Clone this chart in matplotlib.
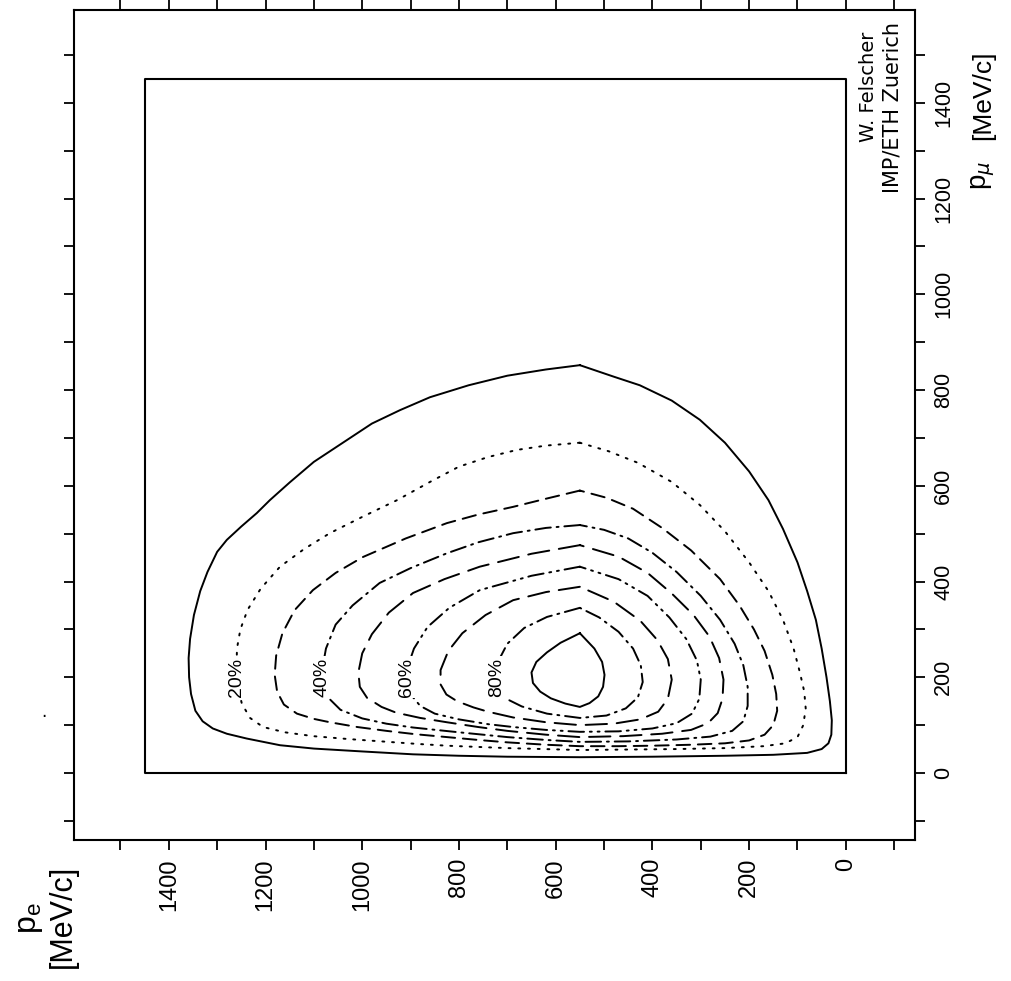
import matplotlib
matplotlib.use('Agg')
import matplotlib.pyplot as plt
from matplotlib.ticker import MultipleLocator

# contour paths: (p_e, p_mu) in MeV/c
c10 = [(550, 852), (620, 843), (700, 830), (780, 810), (860, 785), (922, 758), (980, 730),
       (1040, 690), (1100, 650), (1150, 607), (1191, 570), (1218, 543), (1250, 515), (1280, 487),
       (1300, 462), (1320, 420), (1335, 380), (1348, 330), (1356, 280), (1359, 240), (1358, 200),
       (1354, 165), (1345, 130), (1330, 108), (1309, 93), (1280, 82), (1239, 72), (1170, 58),
       (1100, 51), (1000, 45), (895, 39), (800, 36), (700, 34), (550, 33), (400, 34), (250, 36),
       (150, 38), (80, 42), (50, 50), (36, 62), (30, 80), (29, 110), (33, 150), (40, 200),
       (50, 260), (62, 320), (80, 380), (100, 440), (130, 510), (160, 570), (200, 630),
       (250, 690), (302, 738), (360, 778), (426, 810), (480, 828), (550, 852)]
c20 = [(550, 690), (620, 684), (680, 675), (740, 660), (800, 640), (860, 608), (928, 570),
       (1000, 535), (1067, 501), (1120, 468), (1170, 431), (1210, 385), (1237, 341), (1252, 300),
       (1259, 260), (1260, 220), (1257, 180), (1249, 145), (1232, 115), (1205, 96), (1160, 85),
       (1102, 77), (1030, 71), (960, 66), (890, 61), (825, 57), (700, 52), (550, 48), (450, 49),
       (350, 50), (250, 52), (170, 56), (125, 62), (100, 75), (88, 100), (83, 135), (86, 170),
       (95, 210), (108, 260), (130, 320), (160, 380), (200, 440), (250, 505), (302, 560),
       (360, 608), (430, 648), (490, 672), (550, 690)]
c30 = [(550, 590), (620, 573), (688, 556), (760, 540), (825, 522), (910, 490), (999, 451),
       (1055, 418), (1102, 382), (1140, 340), (1165, 292), (1178, 245), (1181, 205), (1176, 170),
       (1162, 143), (1135, 124), (1100, 113), (1067, 106), (1010, 96), (950, 88), (890, 81),
       (825, 75), (760, 69), (700, 64), (620, 59), (550, 56), (470, 56), (400, 57), (320, 59),
       (250, 62), (200, 68), (168, 80), (150, 100), (142, 130), (144, 165), (152, 205),
       (168, 255), (190, 300), (220, 350), (260, 405), (320, 465), (380, 512), (440, 552),
       (495, 575), (550, 590)]
c40 = [(550, 518), (620, 512), (688, 501), (760, 482), (825, 459), (900, 428), (964, 397),
       (1020, 350), (1055, 310), (1075, 260), (1083, 215), (1080, 180), (1068, 155), (1045, 132),
       (1000, 114), (950, 103), (895, 95), (800, 85), (700, 75), (620, 69), (550, 65), (450, 66),
       (350, 70), (280, 76), (235, 88), (212, 108), (203, 140), (203, 180), (212, 225),
       (230, 270), (260, 320), (300, 370), (350, 420), (400, 460), (450, 490), (500, 508),
       (550, 518)]
c50 = [(550, 476), (650, 458), (757, 431), (830, 405), (895, 376), (945, 335), (980, 290),
       (1000, 250), (1008, 210), (1005, 180), (990, 157), (960, 138), (930, 126), (880, 115),
       (825, 106), (760, 96), (700, 88), (620, 80), (550, 75), (460, 77), (380, 82), (320, 90),
       (285, 104), (265, 125), (255, 155), (253, 195), (262, 240), (282, 285), (315, 330),
       (360, 375), (410, 418), (470, 452), (550, 476)]
c60 = [(550, 431), (650, 412), (757, 382), (820, 345), (865, 305), (893, 260), (906, 222),
       (907, 190), (898, 162), (880, 140), (850, 124), (800, 112), (740, 102), (688, 96),
       (620, 90), (550, 86), (470, 87), (400, 93), (350, 104), (318, 124), (303, 155), (300, 195),
       (308, 235), (330, 280), (365, 325), (410, 370), (470, 405), (550, 431)]
c70 = [(550, 389), (620, 378), (688, 361), (745, 330), (793, 292), (822, 255), (838, 215),
       (838, 185), (826, 164), (804, 150), (770, 137), (740, 128), (688, 116), (620, 106),
       (550, 100), (480, 103), (425, 112), (388, 128), (368, 155), (360, 195), (368, 238),
       (390, 278), (425, 318), (480, 358), (550, 389)]
c80 = [(550, 345), (618, 326), (665, 303), (700, 270), (718, 235), (722, 200), (716, 172),
       (700, 154), (670, 139), (618, 124), (550, 115), (495, 120), (455, 135), (430, 158),
       (420, 190), (424, 225), (440, 260), (470, 295), (510, 325), (550, 345)]
c90 = [(550, 292), (590, 272), (618, 252), (640, 232), (650, 210), (647, 188), (632, 170),
       (610, 156), (580, 145), (550, 138), (530, 146), (512, 160), (502, 180), (499, 205),
       (504, 232), (520, 260), (550, 292)]

label_text = ['20%', '40%', '60%', '80%']
label_pe = [1259, 1083, 908, 722]
label_pmu = [200, 200, 200, 200]

box_pe = [0, 1450, 1450, 0, 0]
box_pmu = [0, 0, 1450, 1450, 0]

major_ticks = [0, 200, 400, 600, 800, 1000, 1200, 1400]

contours = [c10, c20, c30, c40, c50, c60, c70, c80, c90]
styles = ['-', (0, (1, 4)), (0, (7, 4)), (0, (8, 3, 1, 3)), (0, (11, 5)),
          (0, (8, 3, 1, 3, 1, 3)), (0, (11, 5)), (0, (8, 3, 1, 3)), '-']

narrow = ['Liberation Sans Narrow', 'Liberation Sans']

fig = plt.figure(figsize=(10.11, 9.81), dpi=100)
ax = fig.add_axes([74 / 1011, 1 - 840 / 981, (915 - 74) / 1011, (840 - 10) / 981])

ax.plot(box_pe, box_pmu, color='black', lw=1.5)
for path, ls in zip(contours, styles):
    xs = [p[0] for p in path]
    ys = [p[1] for p in path]
    ax.plot(xs, ys, color='black', lw=1.4, linestyle=ls, dash_capstyle='round',
            solid_joinstyle='round')

for t, x, y in zip(label_text, label_pe, label_pmu):
    ax.text(x, y, t, rotation=90, ha='center', va='center', fontsize=14, family=narrow,
            bbox=dict(facecolor='white', edgecolor='none', pad=1))

ax.set_xlim(1596, -143)
ax.set_ylim(-140, 1594)
ax.xaxis.set_minor_locator(MultipleLocator(100))
ax.yaxis.set_minor_locator(MultipleLocator(100))
ax.set_xticks(major_ticks)
ax.set_xticklabels([str(v) for v in major_ticks], rotation=90, family=narrow, fontsize=17)
ax.set_yticks(major_ticks)
ax.set_yticklabels([str(v) for v in major_ticks], rotation=90, family=narrow,
                   fontsize=15.5, va='center')
ax.tick_params(which='both', direction='out', length=7, width=1.3,
               top=True, bottom=True, left=True, right=True,
               labelleft=False, labelright=True, labelbottom=True, labeltop=False)
ax.tick_params(axis='x', pad=6)
ax.tick_params(axis='y', pad=6)
for s in ax.spines.values():
    s.set_linewidth(1.5)

# axis titles (the whole sheet is turned by 90 degrees)
fig.text(30 / 1011, 1 - 918 / 981, r'p$_\mathregular{e}$', rotation=90, ha='center',
         va='center', fontsize=23, family='Liberation Sans')
fig.text(63 / 1011, 1 - 916 / 981, '[MeV/c]', rotation=90, ha='center', va='center',
         fontsize=22, family='Liberation Sans')
fig.text(983 / 1011, 1 - 175 / 981, r'p$_\mu$', rotation=90, ha='center', va='center',
         fontsize=20, family='Liberation Sans')
fig.text(983 / 1011, 1 - 95 / 981, '[MeV/c]', rotation=90, ha='center', va='center',
         fontsize=19, family='Liberation Sans')

fig.text(868 / 1011, 1 - 32 / 981, 'W. Felscher', rotation=90, rotation_mode='anchor',
         ha='right', va='center', fontsize=14)
fig.text(893 / 1011, 1 - 22 / 981, 'IMP/ETH Zuerich', rotation=90, rotation_mode='anchor',
         ha='right', va='center', fontsize=15)

# stray speck on the scan
fig.text(44 / 1011, 1 - 712 / 981, '.', ha='center', va='center', fontsize=12)

fig.savefig('out.png', dpi=100)
